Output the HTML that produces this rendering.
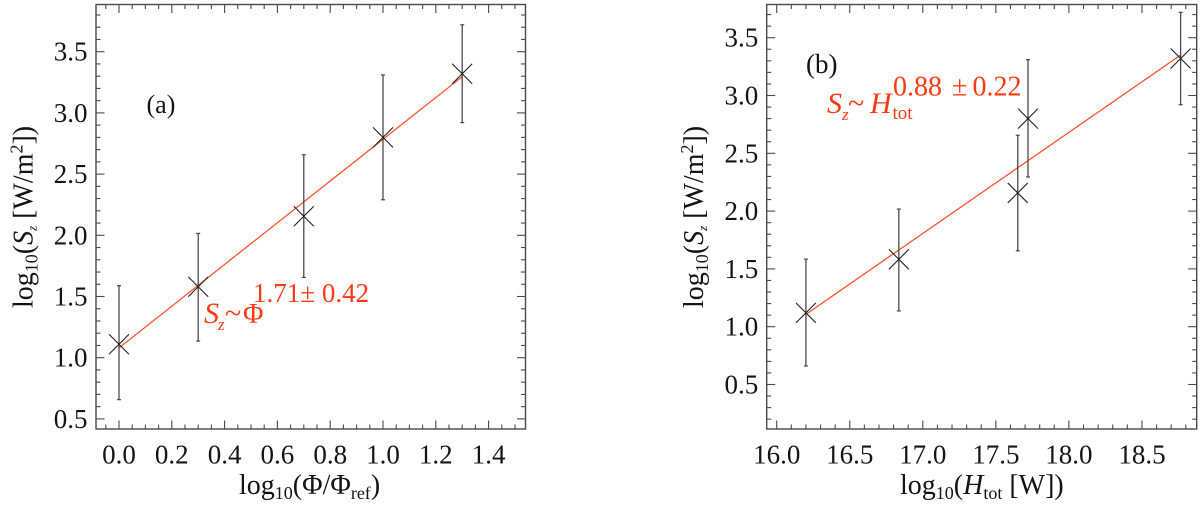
<!DOCTYPE html>
<html lang="en">
<head>
<meta charset="utf-8">
<title>Poynting flux scaling</title>
<style>
html,body{margin:0;padding:0;background:#fff;width:1200px;height:509px;overflow:hidden}
svg{display:block}
text{font-family:"Liberation Serif","Times New Roman",serif;fill:#141414}
.tick{font-size:27px}
.title{font-size:28px}
.red, .red tspan{fill:#ff3a12}
.it{font-style:italic}
</style>
</head>
<body>
<svg id="chart" xmlns="http://www.w3.org/2000/svg" width="1200" height="509" viewBox="0 0 1200 509">
  <g id="panel-a"></g>
  <g id="panel-b"></g>

  <text class="title" x="239" y="494">log<tspan font-size="18" dy="5">10</tspan><tspan dy="-5">(Φ/Φ</tspan><tspan font-size="18" dy="5">ref</tspan><tspan dy="-5">)</tspan></text>
  <text class="title" transform="translate(32.5 308) rotate(-90)">log<tspan font-size="18" dy="5">10</tspan><tspan dy="-5">(</tspan><tspan class="it">S</tspan><tspan class="it" font-size="13" dy="4">z</tspan><tspan dy="-4" xml:space="preserve"> [W/m</tspan><tspan font-size="18" dy="-10">2</tspan><tspan dy="10">])</tspan></text>
  <text font-size="26" x="146.5" y="113">(a)</text>
  <g class="red">
    <text class="red it" x="204" y="323" font-size="30">S</text>
    <text class="red it" x="218" y="330" font-size="17">z</text>
    <text class="red" x="225" y="323" font-size="30">~</text>
    <text class="red" x="243" y="323" font-size="28">Φ</text>
    <text class="red" x="253" y="302" font-size="27">1.71± 0.42</text>
  </g>

  <text class="title" x="900" y="494">log<tspan font-size="18" dy="5">10</tspan><tspan dy="-5">(</tspan><tspan class="it">H</tspan><tspan font-size="18" dy="5">tot</tspan><tspan dy="-5" xml:space="preserve"> [W])</tspan></text>
  <text class="title" transform="translate(703 308) rotate(-90)">log<tspan font-size="18" dy="5">10</tspan><tspan dy="-5">(</tspan><tspan class="it">S</tspan><tspan class="it" font-size="13" dy="4">z</tspan><tspan dy="-4" xml:space="preserve"> [W/m</tspan><tspan font-size="18" dy="-10">2</tspan><tspan dy="10">])</tspan></text>
  <text font-size="27" x="806" y="73">(b)</text>
  <g class="red">
    <text class="red it" x="827" y="113" font-size="30">S</text>
    <text class="red it" x="842" y="120" font-size="17">z</text>
    <text class="red" x="848" y="113" font-size="30">~</text>
    <text class="red it" x="870" y="113" font-size="30">H</text>
    <text class="red" x="892.5" y="119" font-size="19">tot</text>
    <text class="red" x="893" y="95.5" font-size="28">0.88</text>
    <text class="red" x="952" y="95.5" font-size="28">±</text>
    <text class="red" x="972.5" y="95.5" font-size="28">0.22</text>
  </g>
</svg>
<script>
// Panel (a) data
const aCategories = [0.0, 0.3, 0.7, 1.0, 1.3];
const aValues = [1.11, 1.58, 2.156, 2.80, 3.32];
const aErrLow = [0.657, 1.136, 1.656, 2.29, 2.92];
const aErrHigh = [1.588, 2.016, 2.658, 3.31, 3.72];
const aFitX = [0.0, 1.3];
const aFitY = [1.08, 3.296];
const aXTickLabels = ["0.0", "0.2", "0.4", "0.6", "0.8", "1.0", "1.2", "1.4"];
const aYTickLabels = ["0.5", "1.0", "1.5", "2.0", "2.5", "3.0", "3.5"];

// Panel (b) data
const bCategories = [16.2, 16.836, 17.65, 17.72, 18.765];
const bValues = [1.12, 1.583, 2.157, 2.80, 3.32];
const bErrLow = [0.66, 1.136, 1.656, 2.295, 2.92];
const bErrHigh = [1.585, 2.018, 2.656, 3.31, 3.72];
const bFitX = [16.2, 18.765];
const bFitY = [1.107, 3.35];
const bXTickLabels = ["16.0", "16.5", "17.0", "17.5", "18.0", "18.5"];
const bYTickLabels = ["0.5", "1.0", "1.5", "2.0", "2.5", "3.0", "3.5"];

const SVGNS = "http://www.w3.org/2000/svg";
const AXIS_COLOR = "#4a4a4a";
const ERR_COLOR = "#3c3c3c";
const CROSS_COLOR = "#222";
const FIT_COLOR = "#ff4a22";

function make(tag, attrs, parent) {
  const node = document.createElementNS(SVGNS, tag);
  for (const k in attrs) node.setAttribute(k, attrs[k]);
  parent.appendChild(node);
  return node;
}

function drawPanel(cfg) {
  const g = document.getElementById(cfg.id);
  const sx = v => cfg.x0 + cfg.xScale * (v - cfg.xRef);
  const sy = v => cfg.y0 - cfg.yScale * (v - cfg.yRef);
  const box = cfg.box;

  const frame = make("rect", {x: box.l, y: box.t, width: box.r - box.l, height: box.b - box.t, fill: "none", stroke: AXIS_COLOR, "stroke-width": 1.4}, g);
  
  

  // X ticks: minor at each xMinorStep, major at labelled values
  const firstX = parseFloat(cfg.xLabels[0]);
  const majorX = parseFloat(cfg.xLabels[1]) - firstX;
  const perMajorX = Math.round(majorX / cfg.xMinorStep);
  for (let i = -perMajorX; i <= perMajorX * (cfg.xLabels.length + 1); i++) {
    const v = firstX + i * cfg.xMinorStep;
    const px = sx(v);
    if (px <= box.l + 0.5 || px >= box.r - 0.5) continue;
    const len = i % perMajorX === 0 ? 8.5 : 4.5;
    const bottomTick = make("line", {x1: px, x2: px, y1: box.b, y2: box.b - len, stroke: AXIS_COLOR, "stroke-width": 1.1}, g);
    
    
    const topTick = make("line", {x1: px, x2: px, y1: box.t, y2: box.t + len, stroke: AXIS_COLOR, "stroke-width": 1.1}, g);
    
    
  }
  cfg.xLabels.forEach(lab => {
    const t = make("text", {x: sx(parseFloat(lab)), y: 463.5, "text-anchor": "middle", class: "tick"}, g);
    t.textContent = lab;
    
    
  });

  // Y ticks: minor every 0.1, major every labelled 0.5
  const firstY = parseFloat(cfg.yLabels[0]);
  for (let i = -10; i <= 50; i++) {
    const v = firstY + i * 0.1;
    const py = sy(v);
    if (py <= box.t + 0.5 || py >= box.b - 0.5) continue;
    const len = ((i % 5) + 5) % 5 === 0 ? 8.5 : 4.5;
    const leftTick = make("line", {x1: box.l, x2: box.l + len, y1: py, y2: py, stroke: AXIS_COLOR, "stroke-width": 1.1}, g);
    
    
    const rightTick = make("line", {x1: box.r, x2: box.r - len, y1: py, y2: py, stroke: AXIS_COLOR, "stroke-width": 1.1}, g);
    
    
  }
  cfg.yLabels.forEach(lab => {
    const t = make("text", {x: box.l - 8.5, y: sy(parseFloat(lab)) + 9, "text-anchor": "end", class: "tick"}, g);
    t.textContent = lab;
    
    
  });

  // Fit line
  const fit = make("line", {x1: sx(cfg.fitX[0]), y1: sy(cfg.fitY[0]), x2: sx(cfg.fitX[1]), y2: sy(cfg.fitY[1]), stroke: FIT_COLOR, "stroke-width": 1.2}, g);
  
  

  // Points with error bars
  cfg.xs.forEach((xv, i) => {
    const px = sx(xv), py = sy(cfg.ys[i]);
    const lo = sy(cfg.lo[i]), hi = sy(cfg.hi[i]);
    const bar = make("line", {x1: px, x2: px, y1: hi, y2: lo, stroke: ERR_COLOR, "stroke-width": 1.2}, g);
    
    
    const capHigh = make("line", {x1: px - 2, x2: px + 2, y1: hi, y2: hi, stroke: ERR_COLOR, "stroke-width": 1.1}, g);
    
    
    const capLow = make("line", {x1: px - 2, x2: px + 2, y1: lo, y2: lo, stroke: ERR_COLOR, "stroke-width": 1.1}, g);
    
    
    const m = make("path", {d: `M${px - 10} ${py - 10}L${px + 10} ${py + 10}M${px - 10} ${py + 10}L${px + 10} ${py - 10}`, fill: "none", stroke: CROSS_COLOR, "stroke-width": 1.1}, g);
    
    
  });
}

drawPanel({
  id: "panel-a",
  box: {l: 96, t: 4.5, r: 525.5, b: 429},
  x0: 119, xRef: 0, xScale: 264, xMinorStep: 0.05,
  y0: 357.7, yRef: 1, yScale: 122.4,
  xs: aCategories, ys: aValues, lo: aErrLow, hi: aErrHigh,
  fitX: aFitX, fitY: aFitY,
  xLabels: aXTickLabels, yLabels: aYTickLabels
});
drawPanel({
  id: "panel-b",
  box: {l: 766.7, t: 4.5, r: 1196.7, b: 429},
  x0: 776.7, xRef: 16, xScale: 146.1, xMinorStep: 0.1,
  y0: 326.7, yRef: 1, yScale: 115.6,
  xs: bCategories, ys: bValues, lo: bErrLow, hi: bErrHigh,
  fitX: bFitX, fitY: bFitY,
  xLabels: bXTickLabels, yLabels: bYTickLabels
});
</script>
</body>
</html>
